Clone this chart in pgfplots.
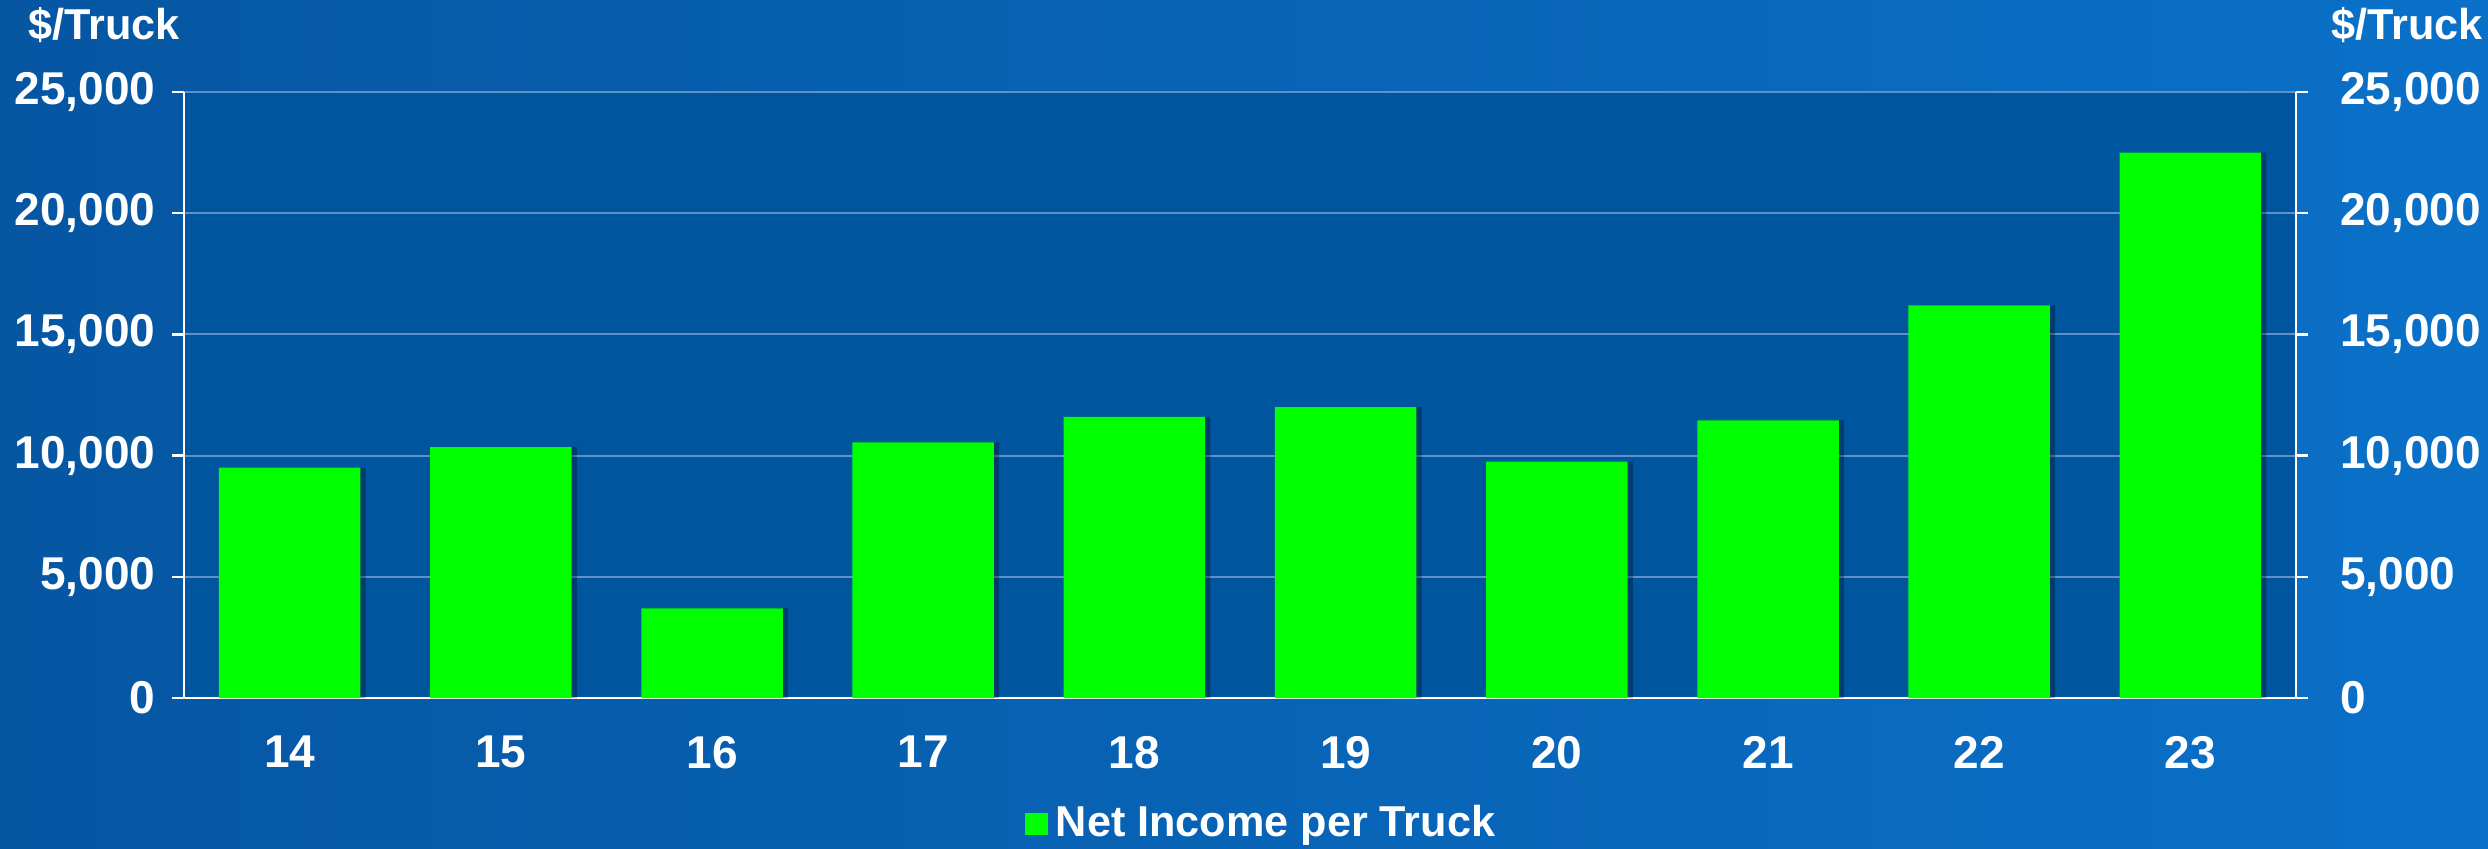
\documentclass[border=0pt]{standalone}
\usepackage{pgfplots}
\pgfplotsset{compat=1.18}
\usepackage{fontspec}
\setmainfont{Liberation Sans}
\definecolor{bgA}{RGB}{6,86,162}
\definecolor{bgB}{RGB}{10,112,200}
\definecolor{plotbg}{RGB}{0,86,158}
\definecolor{gridc}{RGB}{95,145,200}
\definecolor{barg}{RGB}{0,255,0}
\begin{document}
\begin{tikzpicture}
\shade[left color=bgA, right color=bgB] (0,0) rectangle (622pt,212pt);
\useasboundingbox (0,0) rectangle (622pt,212pt);
\pgfplotsset{
  common/.style={
    scale only axis, width=528pt, height=151.5pt,
    at={(46pt,37.5pt)}, anchor=south west,
    xmin=-0.5, xmax=9.5, ymin=0, ymax=25000,
    ytick={0,5000,10000,15000,20000,25000},
    scaled y ticks=false,
    tick align=outside,
    major tick length=3pt,
    every tick/.style={white, line width=0.6pt},
    axis line style={white, line width=0.7pt},
    tick label style={font=\fontsize{11.5}{13}\selectfont\bfseries, text=white},
    /pgf/number format/.cd, fixed, 1000 sep={,}, assume math mode=true
  }
}
\begin{axis}[common,
  axis background/.style={fill=plotbg},
  axis x line*=bottom, axis y line*=left,
  xtick={0,1,2,3,4,5,6,7,8,9},
  xticklabels={14,15,16,17,18,19,20,21,22,23},
  xtick style={draw=none},
  xticklabel style={yshift=-3pt},
  yticklabel style={xshift=-0.6pt},
  ymajorgrids, grid style={gridc, line width=0.5pt},
  bar width=0.67,
  legend style={at={(0.5115,-0.208)}, anchor=center, draw=none, fill=none,
    text=white, font=\fontsize{10.8}{12}\selectfont\bfseries,
    /tikz/every even column/.append style={column sep=0pt}},
  legend image code/.code={\fill[barg] (0pt,-2.8pt) rectangle (5.6pt,2.8pt);},
]
\addplot[ybar, bar shift=1.3pt, fill=black, fill opacity=0.3, draw=none, forget plot]
  coordinates {(0,9500) (1,10350) (2,3700) (3,10550) (4,11600) (5,12000) (6,9750) (7,11450) (8,16200) (9,22500)};
\addplot[ybar, bar shift=0pt, fill=barg, draw=none]
  coordinates {(0,9500) (1,10350) (2,3700) (3,10550) (4,11600) (5,12000) (6,9750) (7,11450) (8,16200) (9,22500)};
\addlegendentry{Net Income per Truck}
\end{axis}
\begin{axis}[common,
  axis x line=none, axis y line*=right,
  yticklabel style={xshift=4.5pt},
]
\addplot[draw=none] coordinates {(0,0)};
\end{axis}
\node[font=\fontsize{10.8}{12}\selectfont\bfseries, text=white] at (26pt,205.7pt) {\$/Truck};
\node[font=\fontsize{10.8}{12}\selectfont\bfseries, text=white] at (601.8pt,205.7pt) {\$/Truck};
\end{tikzpicture}
\end{document}
